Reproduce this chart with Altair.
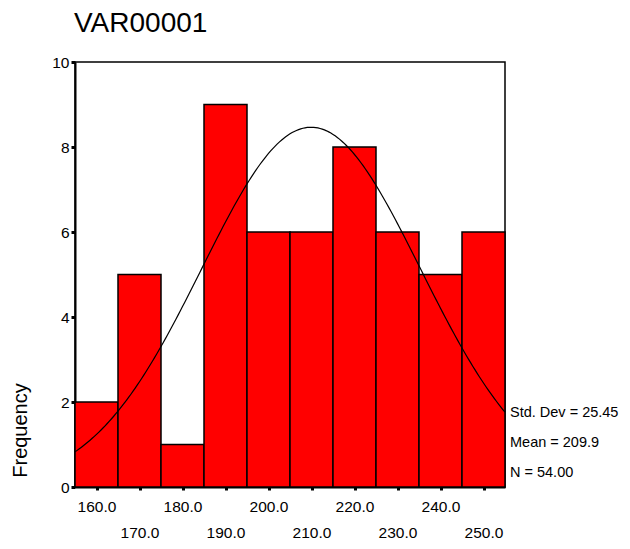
import altair as alt
import pandas as pd
import numpy as np

# Histogram data (bin edges and frequencies)
bin_start = [155, 165, 175, 185, 195, 205, 215, 225, 235, 245]
bin_end = [165, 175, 185, 195, 205, 215, 225, 235, 245, 255]
counts = [2, 5, 1, 9, 6, 6, 8, 6, 5, 6]
tick_values = [160, 170, 180, 190, 200, 210, 220, 230, 240, 250]

# Summary statistics shown in the legend
std_dev = 25.45
mean = 209.9
n_obs = 54
bin_width = 10

stats_lines = ["Std. Dev = 25.45", "Mean = 209.9", "N = 54.00"]

bars_df = pd.DataFrame({"start": bin_start, "end": bin_end, "count": counts})

# Fitted normal curve implied by the stated mean / sd / N
xs = np.linspace(155, 255, 201)
ys = n_obs * bin_width / (std_dev * np.sqrt(2 * np.pi)) * np.exp(-0.5 * ((xs - mean) / std_dev) ** 2)
curve_df = pd.DataFrame({"x": xs, "y": ys})

FONT = "Liberation Sans"

xscale = alt.Scale(domain=[155, 255], nice=False, zero=False)
yscale = alt.Scale(domain=[0, 10], nice=False)

bars = alt.Chart(bars_df).mark_rect(
    fill="#ff0000", stroke="black", strokeWidth=1.5
).encode(
    x=alt.X("start:Q", scale=xscale, title=None,
            axis=alt.Axis(values=tick_values, format=".1f", grid=False,
                          domainColor="black", domainWidth=2,
                          tickColor="black", tickSize=3, tickWidth=3,
                          labelFont=FONT, labelFontSize=15.5, labelColor="black",
                          labelPadding={"condition": {"test": "datum.value % 20 != 0", "value": 35}, "value": 9},
                          labelFlush=False, labelOverlap=False)),
    x2="end:Q",
    y=alt.Y("count:Q", scale=yscale,
            axis=alt.Axis(values=[0, 2, 4, 6, 8, 10], grid=False, title="Frequency",
                          domainColor="black", domainWidth=2,
                          tickColor="black", tickSize=4, tickWidth=3,
                          labelFont=FONT, labelFontSize=15.5, labelColor="black",
                          labelPadding=2,
                          titleFont=FONT, titleFontSize=20, titleFontWeight="normal",
                          titleColor="black", titleX=-45, titleY=368)),
    y2=alt.datum(0),
)

curve = alt.Chart(curve_df).mark_line(color="black", strokeWidth=1.2).encode(
    x=alt.X("x:Q", scale=xscale),
    y=alt.Y("y:Q", scale=yscale),
)

stats = alt.Chart(pd.DataFrame({"a": [0]})).mark_text(
    text=stats_lines, align="left", baseline="alphabetic", lineHeight=30,
    font=FONT, fontSize=14.5, color="black"
).encode(x=alt.value(435), y=alt.value(355))

title = alt.Chart(pd.DataFrame({"a": [0]})).mark_text(
    text="VAR00001", align="left", baseline="alphabetic",
    font=FONT, fontSize=28, color="black"
).encode(x=alt.value(-1), y=alt.value(-30))

chart = alt.layer(bars, curve, stats, title).properties(
    width=430, height=425,
    autosize=alt.AutoSizeParams(type="none"),
    padding={"left": 67, "top": 54, "right": 114, "bottom": 55},
).configure_view(stroke="black", strokeWidth=1.5)

chart.save("out.html", embed_options={"renderer": "svg", "actions": False})
